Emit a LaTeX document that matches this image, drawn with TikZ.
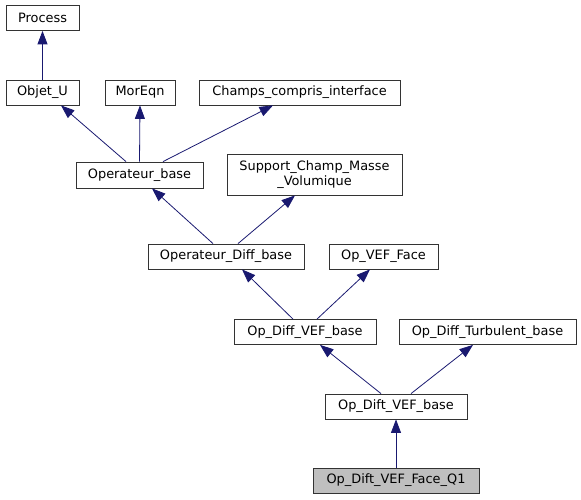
\documentclass[tikz,border=0pt]{standalone}
\usepackage{fontspec}
\setmainfont{DejaVu Sans}
\usetikzlibrary{arrows.meta}
\definecolor{edgeblue}{HTML}{191970}
\definecolor{boxgray}{HTML}{BFBFBF}
\begin{document}
\begin{tikzpicture}[x=1pt,y=-1pt,
  box/.style={draw=black!80, line width=0.8pt, fill=white, rectangle, inner sep=0pt,
    minimum height=25pt, font=\fontsize{12.9}{15}\selectfont, align=center},
  edge/.style={draw=edgeblue, line width=0.8pt, -{Triangle[length=13.5pt,width=10pt,fill=edgeblue]}}]
\useasboundingbox (0,0) rectangle (581,500);
\node[box, minimum width=73pt] (process) at (42.5,18) {Process};
\node[box, minimum width=73pt] (objetu) at (42.5,92.5) {Objet\_U};
\node[box, minimum width=70pt] (moreqn) at (140,92.5) {MorEqn};
\node[box, minimum width=201pt] (champs) at (299.5,92.5) {Champs\_compris\_interface};
\node[box, minimum width=127pt, minimum height=26pt] (opbase) at (139.5,175) {Operateur\_base};
\node[box, minimum width=175pt, minimum height=41pt] (support) at (314.5,174.5) {Support\_Champ\_Masse\\\_Volumique};
\node[box, minimum width=156pt] (opdiff) at (226,256.5) {Operateur\_Diff\_base};
\node[box, minimum width=109pt] (opvef) at (383.5,256.5) {Op\_VEF\_Face};
\node[box, minimum width=142pt] (opdiffvef) at (305,332) {Op\_Diff\_VEF\_base};
\node[box, minimum width=177pt] (opturb) at (487.5,332) {Op\_Diff\_Turbulent\_base};
\node[box, minimum width=142pt] (opdift) at (396,406.5) {Op\_Dift\_VEF\_base};
\node[box, minimum width=166pt, fill=boxgray] (q1) at (396,480.5) {Op\_Dift\_VEF\_Face\_Q1};

\draw[edge] (objetu.north) -- (process.south);
\draw[edge] ([xshift=-13.5pt]opbase.north) -- ([xshift=18.5pt]objetu.south);
\draw[edge] (opbase.north) -- (moreqn.south);
\draw[edge] ([xshift=23.5pt]opbase.north) -- ([xshift=-26.5pt]champs.south);
\draw[edge] ([xshift=-13pt]opdiff.north) -- ([xshift=12.5pt]opbase.south);
\draw[edge] ([xshift=12pt]opdiff.north) -- ([xshift=-19.5pt]support.south);
\draw[edge] ([xshift=-12pt]opdiffvef.north) -- ([xshift=16pt]opdiff.south);
\draw[edge] ([xshift=12pt]opdiffvef.north) -- ([xshift=-13.5pt]opvef.south);
\draw[edge] ([xshift=-15pt]opdift.north) -- ([xshift=15pt]opdiffvef.south);
\draw[edge] ([xshift=15pt]opdift.north) -- ([xshift=-14.5pt]opturb.south);
\draw[edge] (q1.north) -- (opdift.south);
\end{tikzpicture}
\end{document}
